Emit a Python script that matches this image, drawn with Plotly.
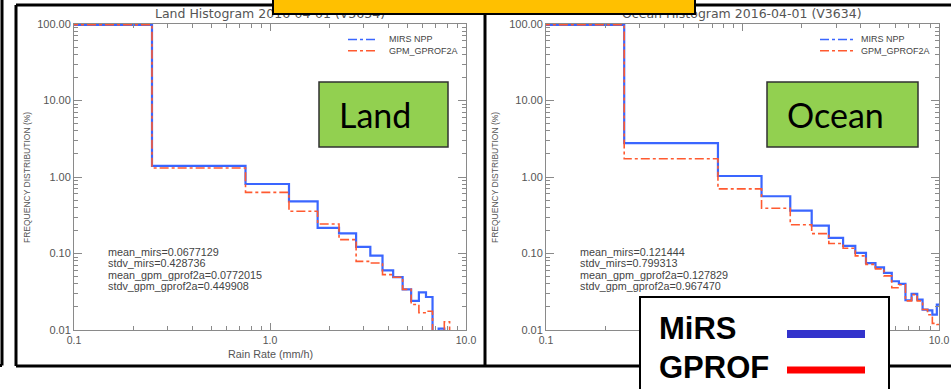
import plotly.graph_objects as go

W, H = 951, 389

# ---------------- data ----------------
bin_centers = [0.0, 0.5, 1.0, 1.5, 2.0, 2.5, 3.0, 3.5, 4.0, 4.5, 5.0,
               5.5, 6.0, 6.5, 7.0, 7.5, 8.0, 8.5, 9.0, 9.5, 10.0]
bin_half_width = 0.25

land_mirs = [97.6, 1.40, 0.81, 0.48, 0.216, 0.183, 0.122, 0.094, 0.060, 0.049, 0.034,
             0.024, 0.031, 0.027, 0.0, 0.0104, 0.0, 0.0, 0.0, 0.0, 0.0]
land_gprof = [98.0, 1.31, 0.63, 0.356, 0.243, 0.152, 0.079, 0.075, 0.053, 0.049, 0.034,
              0.0215, 0.0168, 0.0176, 0.0, 0.0, 0.0128, 0.0, 0.0, 0.0, 0.0]
ocean_mirs = [97.0, 2.78, 1.03, 0.56, 0.363, 0.231, 0.160, 0.126, 0.102, 0.075, 0.066,
              0.0558, 0.0434, 0.040, 0.0245, 0.0297, 0.025, 0.0185, 0.018, 0.0159, 0.0215]
ocean_gprof = [97.8, 1.73, 0.70, 0.39, 0.238, 0.182, 0.135, 0.117, 0.093, 0.072, 0.063,
               0.051, 0.0356, 0.039, 0.024, 0.029, 0.024, 0.0185, 0.0158, 0.0122, 0.0118]

x_tickvals = [0.1, 1.0, 10.0]
x_ticktext = ["0.1", "1.0", "10.0"]
y_tickvals = [0.01, 0.1, 1.0, 10.0, 100.0]
y_ticktext = ["0.01", "0.10", "1.00", "10.00", "100.00"]

land_title = "Land Histogram 2016-04-01 (V3634)"
ocean_title = "Ocean Histogram 2016-04-01 (V3634)"
land_stats = ["mean_mirs=0.0677129", "stdv_mirs=0.428736",
              "mean_gpm_gprof2a=0.0772015", "stdv_gpm_gprof2a=0.449908"]
ocean_stats = ["mean_mirs=0.121444", "stdv_mirs=0.799313",
               "mean_gpm_gprof2a=0.127829", "stdv_gpm_gprof2a=0.967470"]
series_names = ["MIRS NPP", "GPM_GPROF2A"]

# ---------------- helpers ----------------
def px(x):
    return x / W


def py(y):
    return 1 - y / H


def step_xy(values):
    edges = [c - bin_half_width for c in bin_centers] + [bin_centers[-1] + bin_half_width]
    edges[0] = 0.05  # left edge of the zero bin lies off the log axis
    ys = [v if v > 0 else 1e-4 for v in values]
    ys = ys + [ys[-1]]
    return edges, ys


BLUE = "#3a66ff"
RED = "#ff5a30"
AX = "#8a8a8a"
TXT = "#555555"
FONT = "Liberation Sans"

fig = go.Figure()
for vals, col, dash, wd, xa, ya in [
    (land_mirs, BLUE, "solid", 2.2, "x", "y"),
    (land_gprof, RED, "dashdot", 1.6, "x", "y"),
    (ocean_mirs, BLUE, "solid", 2.2, "x2", "y2"),
    (ocean_gprof, RED, "dashdot", 1.6, "x2", "y2"),
]:
    xs, ys = step_xy(vals)
    fig.add_trace(go.Scatter(x=xs, y=ys, mode="lines", line=dict(color=col, width=wd, dash=dash, shape="hv"),
                             xaxis=xa, yaxis=ya, showlegend=False, hoverinfo="skip"))

x_minor = [k * 10 ** e for e in (-1, 0) for k in range(2, 10)]
y_minor = [k * 10 ** e for e in (-2, -1, 0, 1) for k in range(2, 10)]


def xaxis(dom, anchor):
    return dict(type="log", range=[-1, 1], domain=dom, anchor=anchor, showline=True, linecolor=AX,
                linewidth=1, mirror="ticks", ticks="inside", ticklen=7, tickcolor=AX, tickwidth=1,
                tickmode="array", tickvals=x_tickvals, ticktext=x_ticktext, automargin=False,
                tickfont=dict(family=FONT, size=10.5, color=TXT), showgrid=False, zeroline=False,
                minor=dict(tickmode="array", tickvals=x_minor, ticks="inside", ticklen=4,
                           tickcolor=AX, tickwidth=1, showgrid=False))


def yaxis(dom, anchor):
    return dict(type="log", range=[-2, 2], domain=dom, anchor=anchor, showline=True, linecolor=AX,
                linewidth=1, mirror="ticks", ticks="inside", ticklen=8, tickcolor=AX, tickwidth=1,
                tickmode="array", tickvals=y_tickvals, ticktext=y_ticktext, automargin=False,
                tickfont=dict(family=FONT, size=11, color=TXT), showgrid=False, zeroline=False,
                minor=dict(tickmode="array", tickvals=y_minor, ticks="inside", ticklen=4,
                           tickcolor=AX, tickwidth=1, showgrid=False))


ydom = [py(330), py(24)]
fig.update_layout(
    width=W, height=H, autosize=False, margin=dict(l=0, r=0, t=0, b=0, pad=0),
    paper_bgcolor="white", plot_bgcolor="white",
    xaxis=xaxis([px(74), px(466)], "y"), yaxis=yaxis(ydom, "x"),
    xaxis2=xaxis([px(546), px(939)], "y2"), yaxis2=yaxis(ydom, "x2"),
)

shapes = []
ann = []


def line(x0, y0, x1, y1, color="black", width=3, dash="solid"):
    shapes.append(dict(type="line", xref="paper", yref="paper", x0=px(x0), y0=py(y0), x1=px(x1), y1=py(y1),
                       line=dict(color=color, width=width, dash=dash), layer="above"))


# slide panel frames (black)
line(2, -3, 2, 365.5)
line(-3, 365.5, 2, 365.5)
line(16, 5, 955, 5)
line(16, 366, 955, 366)
line(16, 5, 16, 366)
line(485, 5, 485, 366)

# per-panel decorations
for (x0, title, stats, ytitle_x, leg_x0, leg_x1, leg_tx) in [
    (74, land_title, land_stats, 27, 348, 376, 388),
    (546, ocean_title, ocean_stats, 495, 820, 855, 860),
]:
    cx = x0 + 196
    ann.append(dict(x=px(cx), y=py(13.5), xref="paper", yref="paper", text=title, showarrow=False,
                    font=dict(family="DejaVu Sans", size=12.5, color=TXT), xanchor="center", yanchor="middle"))
    ann.append(dict(x=px(ytitle_x), y=py(178), xref="paper", yref="paper", text="FREQUENCY DISTRIBUTION (%)",
                    showarrow=False, textangle=-90, font=dict(family=FONT, size=8.5, color=TXT),
                    xanchor="center", yanchor="middle"))
    for i, s in enumerate(stats):
        ann.append(dict(x=px(x0 + 32), y=py(252 + 11.4 * i), xref="paper", yref="paper", text=s,
                        showarrow=False, font=dict(family=FONT, size=10.8, color="#444444"),
                        xanchor="left", yanchor="middle"))
    for i, (nm, col) in enumerate(zip(series_names, [BLUE, RED])):
        yy = 39.5 + 11.3 * i
        line(leg_x0, yy, leg_x1, yy, color=col, width=1.4, dash="dashdot")
        ann.append(dict(x=px(leg_tx - 1), y=py(yy), xref="paper", yref="paper", text=nm, showarrow=False,
                        font=dict(family=FONT, size=9, color="#444444"), xanchor="left", yanchor="middle"))

ann.append(dict(x=px(270), y=py(354), xref="paper", yref="paper", text="Rain Rate (mm/h)", showarrow=False,
                font=dict(family=FONT, size=10.8, color=TXT), xanchor="center", yanchor="middle"))

# green labels
for (bx0, bx1, label, tx) in [(319, 448, "Land", 375), (767, 918, "Ocean", 835)]:
    shapes.append(dict(type="rect", xref="paper", yref="paper", x0=px(bx0), x1=px(bx1), y0=py(82), y1=py(147),
                       fillcolor="#92D050", line=dict(color="#303030", width=1.5), layer="above"))
    ann.append(dict(x=px(tx), y=py(115), xref="paper", yref="paper", text=label, showarrow=False,
                    font=dict(family="Lato", size=34, color="black"), xanchor="center", yanchor="middle"))

# MiRS / GPROF key box
shapes.append(dict(type="rect", xref="paper", yref="paper", x0=px(640), x1=px(889), y0=py(297), y1=py(395),
                   fillcolor="white", line=dict(color="black", width=2), layer="above"))
line(787, 334, 865, 334, color="#3333CC", width=8)
line(787, 370, 865, 370, color="#FF0000", width=7)
ann.append(dict(x=px(657), y=py(328), xref="paper", yref="paper", text="<b>MiRS</b>", showarrow=False,
                font=dict(family="Liberation Sans", size=31, color="black"), xanchor="left", yanchor="middle"))
ann.append(dict(x=px(657), y=py(367), xref="paper", yref="paper", text="<b>GPROF</b>", showarrow=False,
                font=dict(family="Liberation Sans", size=31, color="black"), xanchor="left", yanchor="middle"))

# yellow header box (covers the top of the titles)
ann.append(dict(x=px(272), y=py(15.5), xref="paper", yref="paper", text=" ", showarrow=False,
                width=696 - 272 - 4, height=24, bgcolor="#FFC000", bordercolor="black", borderwidth=2,
                borderpad=0, xanchor="left", yanchor="bottom"))

fig.update_layout(shapes=shapes, annotations=ann)
fig.write_html(
    "out.html",
    config={"displayModeBar": False},
    post_script="document.body.style.margin='0';document.body.style.padding='0';"
                "document.body.style.overflow='hidden';document.documentElement.style.overflow='hidden';",
)
